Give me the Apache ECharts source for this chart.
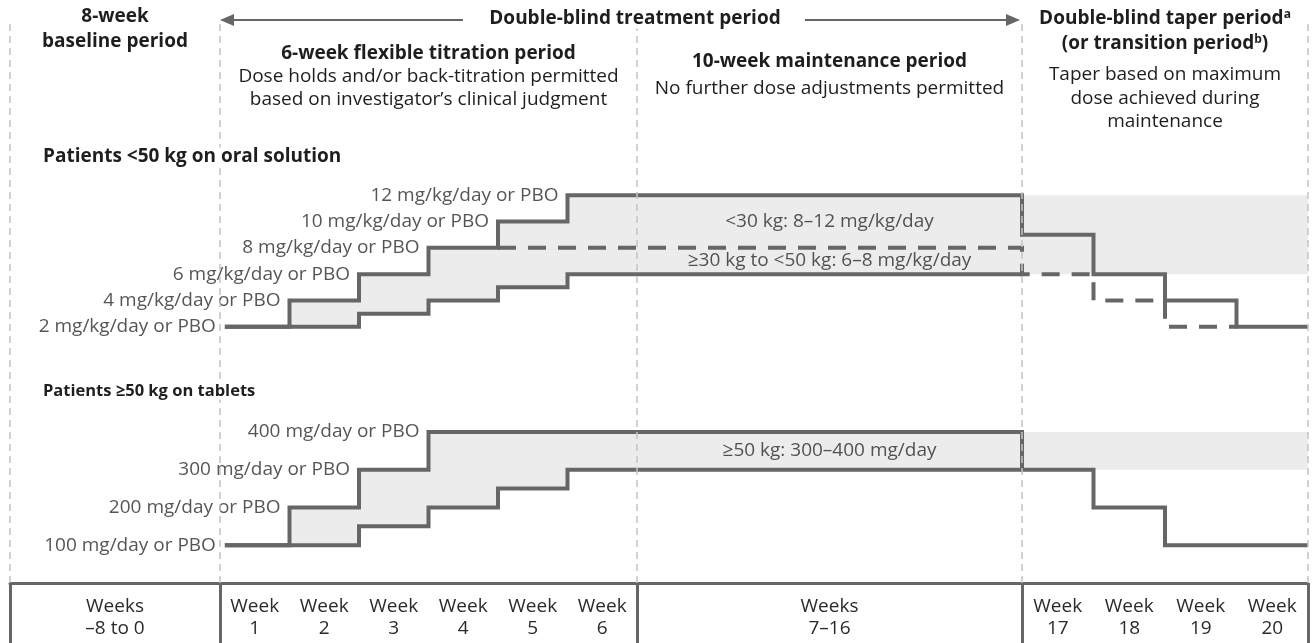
<!DOCTYPE html>
<html>
<head>
<meta charset="utf-8">
<title>Study design</title>
<script src="https://cdn.jsdelivr.net/npm/echarts@6/dist/echarts.min.js"></script>
<style>
  html, body { margin: 0; padding: 0; background: #fff; }
  #chart { width: 1312px; height: 643px; }
</style>
</head>
<body>
<div id="chart"></div>
<script>
// period boundaries (study weeks) and the width each period gets on the page
const periodWeeks = [-8, 0, 6, 16, 20]
const periodWidth = [210, 417, 385, 286]

// patients <50 kg on oral solution, mg/kg/day
const oralHigh = [2, 4, 6, 8, 10, 12, 12, 12, 12, 12, 12, 12, 12, 12, 12, 12, 9, 6, 4, 2] // weeks 1-20
const oralLow = [2, 2, 3, 4, 5, 6, 6, 6, 6, 6, 6, 6, 6, 6, 6, 6] // weeks 1-16
const oralMid = [8, 8, 8, 8, 8, 8, 8, 8, 8, 8, 8, 8, 6, 4, 2] // weeks 5-19 (dashed)
const oralMidFirstWeek = 5
const oralTaperBand = [6, 12]
const oralDoseLabels = ['2 mg/kg/day or PBO', '4 mg/kg/day or PBO', '6 mg/kg/day or PBO',
  '8 mg/kg/day or PBO', '10 mg/kg/day or PBO', '12 mg/kg/day or PBO']
const oralNotes = ['<30 kg: 8–12 mg/kg/day', '≥30 kg to <50 kg: 6–8 mg/kg/day']
const oralNoteDose = [10, 7]

// patients >=50 kg on tablets, mg/day
const tabHigh = [100, 200, 300, 400, 400, 400, 400, 400, 400, 400, 400, 400, 400, 400, 400, 400, 300, 200, 100, 100]
const tabLow = [100, 100, 150, 200, 250, 300, 300, 300, 300, 300, 300, 300, 300, 300, 300, 300]
const tabTaperBand = [300, 400]
const tabDoseLabels = ['100 mg/day or PBO', '200 mg/day or PBO', '300 mg/day or PBO', '400 mg/day or PBO']
const tabNotes = ['≥50 kg: 300–400 mg/day']
const tabNoteDose = [350]

// week table at the bottom
const weekCells = [-4, 0.5, 1.5, 2.5, 3.5, 4.5, 5.5, 11, 16.5, 17.5, 18.5, 19.5]
const weekCellText = ['Weeks\n–8 to 0', 'Week\n1', 'Week\n2', 'Week\n3', 'Week\n4', 'Week\n5', 'Week\n6',
  'Weeks\n7–16', 'Week\n17', 'Week\n18', 'Week\n19', 'Week\n20']

const font = '"Open Sans", "Noto Sans", sans-serif'
const fs = 19
const lineColor = '#666666'
const bandColor = '#ececec'
const left = 10
const lineStart = 0.07 // lines begin just right of the week-0 divider

// study week -> position along the x axis
function wx(w) {
  let pos = 0
  for (let i = 0; i < periodWidth.length; i++) {
    const a = periodWeeks[i]
    const b = periodWeeks[i + 1]
    if (w <= b || i === periodWidth.length - 1) return pos + (w - a) / (b - a) * periodWidth[i]
    pos += periodWidth[i]
  }
}
const span = periodWidth.reduce((s, v) => s + v, 0)
const gx = w => left + wx(w)

function steps(doses, firstWeek) {
  const pts = doses.map((d, i) => [wx(Math.max(firstWeek - 1 + i, lineStart)), d])
  pts.push([wx(firstWeek - 1 + doses.length), doses[doses.length - 1]])
  return pts
}
function corners(doses, firstWeek) {
  const out = []
  doses.forEach((d, i) => {
    out.push([wx(firstWeek - 1 + i), d])
    out.push([wx(firstWeek + i), d])
  })
  return out
}

function bandSeries(g, polys) {
  return {
    type: 'custom', xAxisIndex: g, yAxisIndex: g, silent: true, z: 1,
    data: [[polys[0][0][0], polys[0][0][1]]],
    renderItem(params, api) {
      return {
        type: 'group',
        children: polys.map(p => ({
          type: 'polygon',
          shape: { points: p.map(q => api.coord(q)) },
          style: { fill: bandColor }
        }))
      }
    }
  }
}

function stepLine(g, pts, dashed) {
  return {
    type: 'line', xAxisIndex: g, yAxisIndex: g, data: pts, step: 'end',
    symbol: 'none', silent: true, z: 3,
    lineStyle: { color: lineColor, width: 4, type: dashed ? [18, 12] : 'solid', cap: 'butt', join: 'miter' }
  }
}

function doseLabels(g, texts, high) {
  return {
    type: 'scatter', xAxisIndex: g, yAxisIndex: g, symbolSize: 0, silent: true, z: 4,
    data: texts.map((t, i) => ({ value: [wx(Math.max(i, lineStart)), high[i]], label: { formatter: t } })),
    label: {
      show: true, position: 'left', distance: 7, color: '#2a2a2a', fontSize: fs, fontFamily: font,
      backgroundColor: '#fff', padding: [0, 2]
    }
  }
}

function notes(g, texts, doses) {
  return {
    type: 'scatter', xAxisIndex: g, yAxisIndex: g, symbolSize: 0, silent: true, z: 4,
    data: texts.map((t, i) => ({ value: [wx(11), doses[i]], label: { formatter: t } })),
    label: { show: true, position: 'inside', color: '#2a2a2a', fontSize: fs, fontFamily: font }
  }
}

function txt(x, y, text, size, bold, align, rich) {
  return {
    type: 'text', x: x, y: y, silent: true, z: 100,
    style: {
      text: text, fill: '#1e1e1e', fontFamily: font, fontSize: size,
      fontWeight: bold ? 'bold' : 'normal',
      align: align || 'center', verticalAlign: 'middle', rich: rich,
      backgroundColor: '#fff', padding: [0, 3]
    }
  }
}

const supRich = {
  b: { fontFamily: font, fontSize: fs, fontWeight: 'bold', fill: '#1e1e1e' },
  s: { fontFamily: font, fontSize: 12, fontWeight: 'bold', fill: '#1e1e1e', verticalAlign: 'top', padding: [0, 0, 9, 0] }
}

const oralBand = corners(oralHigh.slice(0, oralLow.length), 1).concat(corners(oralLow, 1).reverse())
const oralTaper = [[wx(16), oralTaperBand[0]], [wx(20), oralTaperBand[0]], [wx(20), oralTaperBand[1]], [wx(16), oralTaperBand[1]]]
const tabBand = corners(tabHigh.slice(0, tabLow.length), 1).concat(corners(tabLow, 1).reverse())
const tabTaper = [[wx(16), tabTaperBand[0]], [wx(20), tabTaperBand[0]], [wx(20), tabTaperBand[1]], [wx(16), tabTaperBand[1]]]

const chart = echarts.init(document.getElementById('chart'))
chart.setOption({
  animation: false,
  backgroundColor: '#fff',
  grid: [
    { left: left, width: span, top: 182, height: 158 },
    { left: left, width: span, top: 413, height: 151 },
    { left: left, width: span, top: 22, height: 561 }
  ],
  xAxis: [
    { gridIndex: 0, type: 'value', min: 0, max: span, show: false },
    { gridIndex: 1, type: 'value', min: 0, max: span, show: false },
    {
      gridIndex: 2, type: 'value', min: 0, max: span, position: 'bottom',
      axisLine: { show: true, lineStyle: { color: lineColor, width: 3 } },
      axisTick: { show: true, customValues: periodWeeks.map(wx), length: 62, lineStyle: { color: lineColor, width: 3 } },
      axisLabel: {
        show: true, customValues: weekCells.map(wx),
        formatter: v => {
          let best = 0
          weekCells.forEach((w, i) => { if (Math.abs(wx(w) - v) < Math.abs(wx(weekCells[best]) - v)) best = i })
          return weekCellText[best]
        },
        color: '#2a2a2a', fontSize: fs, lineHeight: 22, margin: 13, fontFamily: font
      },
      splitLine: { show: false }
    }
  ],
  yAxis: [
    { gridIndex: 0, type: 'value', min: 1, max: 13, show: false },
    { gridIndex: 1, type: 'value', min: 50, max: 450, show: false },
    { gridIndex: 2, type: 'value', min: 0, max: 1, show: false }
  ],
  series: [
    {
      type: 'line', xAxisIndex: 2, yAxisIndex: 2, data: [], symbol: 'none', z: 0,
      markLine: {
        silent: true, symbol: 'none', label: { show: false },
        lineStyle: { color: '#c4c4c4', width: 1.5, type: [7, 5] },
        data: periodWeeks.map(w => ({ xAxis: wx(w) }))
      }
    },
    bandSeries(0, [oralBand, oralTaper]),
    stepLine(0, steps(oralHigh, 1)),
    stepLine(0, steps(oralLow, 1)),
    stepLine(0, steps(oralMid, oralMidFirstWeek), true),
    doseLabels(0, oralDoseLabels, oralHigh),
    notes(0, oralNotes, oralNoteDose),
    bandSeries(1, [tabBand, tabTaper]),
    stepLine(1, steps(tabHigh, 1)),
    stepLine(1, steps(tabLow, 1)),
    doseLabels(1, tabDoseLabels, tabHigh),
    notes(1, tabNotes, tabNoteDose)
  ],
  graphic: [
    txt(gx(-4), 17, '8-week', fs, true),
    txt(gx(-4), 42, 'baseline period', fs, true),
    { type: 'line', silent: true, z: 90, shape: { x1: gx(0) + 10, y1: 20, x2: 463, y2: 20 }, style: { stroke: lineColor, lineWidth: 2 } },
    { type: 'polygon', silent: true, z: 90, shape: { points: [[gx(0), 20], [gx(0) + 14, 14], [gx(0) + 14, 26]] }, style: { fill: lineColor } },
    { type: 'line', silent: true, z: 90, shape: { x1: 805, y1: 20, x2: gx(16) - 10, y2: 20 }, style: { stroke: lineColor, lineWidth: 2 } },
    { type: 'polygon', silent: true, z: 90, shape: { points: [[gx(16) - 2, 20], [gx(16) - 16, 14], [gx(16) - 16, 26]] }, style: { fill: lineColor } },
    txt(635, 19, 'Double-blind treatment period', fs, true),
    txt(gx(3), 54, '6-week flexible titration period', fs, true),
    txt(gx(3), 77, 'Dose holds and/or back-titration permitted', fs, false),
    txt(gx(3), 100, 'based on investigator’s clinical judgment', fs, false),
    txt(gx(11), 62, '10-week maintenance period', fs, true),
    txt(gx(11), 89, 'No further dose adjustments permitted', fs, false),
    txt(gx(18), 19, '{b|Double-blind taper period}{s|a}', fs, true, 'center', supRich),
    txt(gx(18), 44, '{b|(or transition period}{s|b}{b|)}', fs, true, 'center', supRich),
    txt(gx(18), 75, 'Taper based on maximum', fs, false),
    txt(gx(18), 99, 'dose achieved during', fs, false),
    txt(gx(18), 122, 'maintenance', fs, false),
    txt(40, 157, 'Patients <50 kg on oral solution', fs, true, 'left'),
    txt(40, 391, 'Patients ≥50 kg on tablets', 16.5, true, 'left')
  ]
})
</script>
</body>
</html>
